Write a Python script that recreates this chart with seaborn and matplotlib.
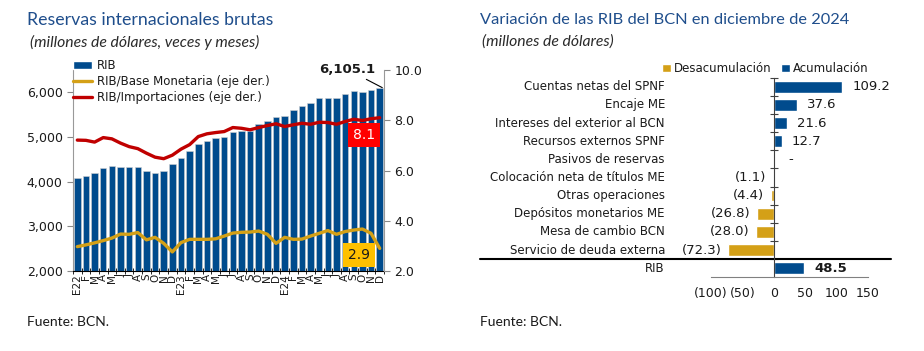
import numpy as np
import pandas as pd
import seaborn as sns
import matplotlib.pyplot as plt
from matplotlib.patches import Patch
from matplotlib.lines import Line2D
from matplotlib.ticker import FuncFormatter

# ---- left panel data: RIB (millones US$), RIB/Base monetaria, RIB/Importaciones
years = ["22", "23", "24"]
month_letters = ["E", "F", "M", "A", "M", "J", "J", "A", "S", "O", "N", "D"]
rib = [4090, 4130, 4205, 4310, 4345, 4330, 4325, 4325, 4250, 4205, 4250, 4405,
       4525, 4690, 4840, 4910, 4970, 4990, 5115, 5130, 5130, 5280, 5350, 5440,
       5465, 5600, 5690, 5760, 5880, 5880, 5880, 5970, 6040, 6010, 6055, 6105.1]
rib_base = [2.97, 3.04, 3.12, 3.21, 3.31, 3.47, 3.46, 3.53, 3.24, 3.34, 3.10, 2.76,
            3.13, 3.26, 3.26, 3.26, 3.28, 3.39, 3.51, 3.54, 3.55, 3.59, 3.46, 3.10,
            3.34, 3.26, 3.27, 3.39, 3.50, 3.61, 3.46, 3.57, 3.63, 3.67, 3.50, 2.90]
rib_import = [7.21, 7.20, 7.13, 7.31, 7.26, 7.09, 6.95, 6.87, 6.69, 6.53, 6.47, 6.61,
              6.85, 7.03, 7.35, 7.46, 7.51, 7.55, 7.71, 7.68, 7.62, 7.71, 7.79, 7.86,
              7.75, 7.82, 7.88, 7.84, 7.92, 7.91, 7.84, 7.95, 8.04, 7.99, 8.06, 8.10]

# ---- right panel data: variacion de las RIB, diciembre 2024
conceptos = ["Cuentas netas del SPNF", "Encaje ME", "Intereses del exterior al BCN",
             "Recursos externos SPNF", "Pasivos de reservas", "Colocación neta de títulos ME",
             "Otras operaciones", "Depósitos monetarios ME", "Mesa de cambio BCN",
             "Servicio de deuda externa", "RIB"]
variacion = [109.2, 37.6, 21.6, 12.7, 0.0, -1.1, -4.4, -26.8, -28.0, -72.3, 48.5]

blue = "#004B8D"
gold = "#D4A017"
red = "#C00000"
title_col = "#1F4E8C"
txt = "#1A1A1A"

sns.set_style("ticks")
plt.rcParams['font.family'] = ['DejaVu Sans']
plt.rcParams['text.color'] = txt
plt.rcParams['xtick.color'] = txt
plt.rcParams['ytick.color'] = txt

tick_labels = []
for y in years:
    for i, m in enumerate(month_letters):
        tick_labels.append(m + y if i == 0 else m)
keys = [f"{y}-{i:02d}" for y in years for i in range(1, 13)]
df = pd.DataFrame({"mes": keys, "rib": rib, "base": rib_base, "imp": rib_import})
df["pos"] = np.arange(len(df))

fig = plt.figure(figsize=(9.24, 3.51), dpi=100)
ax = fig.add_axes([73 / 924, 1 - 271 / 351, (384 - 73) / 924, 201 / 351])
ax2 = ax.twinx()

sns.barplot(data=df, x="mes", y="rib", color=blue, saturation=1, width=0.75,
            edgecolor="#D0D0D0", linewidth=0.4, ax=ax)
sns.lineplot(data=df, x="pos", y="base", color=gold, lw=2.4, ax=ax2)
sns.lineplot(data=df, x="pos", y="imp", color=red, lw=2.4, ax=ax2)

ax.set_xlim(-0.5, len(df) - 0.5)
ax.set_ylim(2000, 6500)
ax2.set_ylim(2, 10)
ax.set_xlabel("")
ax.set_ylabel("")
ax2.set_ylabel("")
ax.set_yticks([2000, 3000, 4000, 5000, 6000])
ax.yaxis.set_major_formatter(FuncFormatter(lambda v, p: f"{v:,.0f}"))
ax2.set_yticks([2, 4, 6, 8, 10])
ax2.yaxis.set_major_formatter(FuncFormatter(lambda v, p: f"{v:.1f}"))
ax.tick_params(axis='y', labelsize=9, length=4, color="#888888")
ax2.tick_params(axis='y', labelsize=9, length=4, color="#888888")

ax.set_xticks(np.arange(len(df)))
ax.set_xticklabels(tick_labels, rotation=90, fontsize=7.5)
ax.set_xticks(np.arange(-0.5, len(df), 1), minor=True)
ax.tick_params(axis='x', which='major', length=0, pad=2)
ax.tick_params(axis='x', which='minor', length=5, direction='inout', color="black")

for s in ["top", "right"]:
    ax.spines[s].set_visible(False)
for s in ["top", "left", "bottom"]:
    ax2.spines[s].set_visible(False)
ax.spines["left"].set_color("#999999")
ax2.spines["right"].set_color("#999999")
ax.spines["bottom"].set_color("black")

handles = [Patch(facecolor=blue), Line2D([], [], color=gold, lw=2.4),
           Line2D([], [], color=red, lw=2.4)]
labels = ["RIB", "RIB/Base Monetaria (eje der.)", "RIB/Importaciones (eje der.)"]
ax2.legend(handles, labels, loc="upper left", bbox_to_anchor=(0.0, 1.055), frameon=False,
           fontsize=8.5, handlelength=1.6, handletextpad=0.4, labelspacing=0.25,
           borderpad=0, borderaxespad=0)

last = len(df) - 1
ax.annotate(f"{rib[-1]:,.1f}", xy=(last + 0.3, rib[-1]), xytext=(-25, 13),
            textcoords="offset points", ha="center", va="center", fontsize=9.5,
            fontweight="bold", arrowprops=dict(arrowstyle="-", color="black", lw=0.8,
                                               shrinkA=0, shrinkB=0))
ax2.annotate(f"{rib_import[-1]:.1f}", xy=(last, rib_import[-1]), xytext=(-11, -12.5),
             textcoords="offset points", ha="center", va="center", fontsize=10,
             color="white", bbox=dict(boxstyle="square,pad=0.35", fc="#FF0000", ec="none"))
ax2.annotate(f"{rib_base[-1]:.1f}", xy=(last, rib_base[-1]), xytext=(-15, -5),
             textcoords="offset points", ha="center", va="center", fontsize=10,
             color=txt, bbox=dict(boxstyle="square,pad=0.35", fc="#FFC000", ec="none"))

# ---- right panel
dfr = pd.DataFrame({"concepto": conceptos, "valor": variacion})
dfr["tipo"] = np.where(dfr["valor"] < 0, "Desacumulación", "Acumulación")
axr = fig.add_axes([711 / 924, 1 - 277.3 / 351, 157 / 924, 199.6 / 351])
sns.barplot(data=dfr, y="concepto", x="valor", hue="tipo",
            hue_order=["Desacumulación", "Acumulación"],
            palette={"Desacumulación": gold, "Acumulación": blue},
            dodge=False, width=0.64, saturation=1, legend=False, orient="h", ax=axr)
axr.set_xlim(-100, 150)
axr.set_ylim(len(dfr) - 0.5, -0.5)
axr.set_xlabel("")
axr.set_ylabel("")
axr.spines["left"].set_position(("data", 0))
axr.spines["left"].set_color("#404040")
axr.spines["bottom"].set_color("#808080")
axr.spines["top"].set_visible(False)
axr.spines["right"].set_visible(False)
axr.set_yticks(np.arange(-0.5, len(dfr) - 1, 1))
axr.set_yticklabels([])
axr.tick_params(axis='y', direction='inout', length=6, color="#404040")
axr.set_xticks([-100, -50, 0, 50, 100, 150])
axr.xaxis.set_major_formatter(FuncFormatter(lambda v, p: f"({abs(v):.0f})" if v < 0 else f"{v:.0f}"))
axr.tick_params(axis='x', length=0, pad=7, labelsize=9)

ytr = axr.get_yaxis_transform()
for i, (c, v) in enumerate(zip(conceptos, variacion)):
    axr.text(-0.293, i, c, transform=ytr, ha="right", va="center", fontsize=8.5)
    bold = "bold" if c == "RIB" else "normal"
    if v > 0:
        axr.annotate(f"{v:.1f}", xy=(v, i), xytext=(7, 0), textcoords="offset points",
                     ha="left", va="center", fontsize=9.5, fontweight=bold)
    elif v < 0:
        axr.annotate(f"({abs(v):.1f})", xy=(v, i), xytext=(-5, 0), textcoords="offset points",
                     ha="right", va="center", fontsize=9.5)
    else:
        axr.annotate("-", xy=(v, i), xytext=(12, 0), textcoords="offset points",
                     ha="center", va="center", fontsize=9.5)
axr.plot([-1.47, 1.146], [len(dfr) - 1.5] * 2, transform=ytr, color="black", lw=1.5,
         clip_on=False)

axr.legend([Patch(facecolor=gold), Patch(facecolor=blue)], ["Desacumulación", "Acumulación"],
           loc="lower right", bbox_to_anchor=(1.02, 1.0), ncol=2, frameon=False,
           fontsize=8.5, handlelength=0.7, handleheight=0.7, handletextpad=0.3,
           columnspacing=0.8, borderpad=0, borderaxespad=0.2)

# ---- titles and sources
fig.text(27 / 924, 1 - 20 / 351, "Reservas internacionales brutas", fontsize=12.8,
         color=title_col, va="center", family="Lato")
fig.text(30 / 924, 1 - 42 / 351, "(millones de dólares, veces y meses)", fontsize=11.3,
         style="italic", va="center", family="Lato", color="#2A2A2A")
fig.text(480 / 924, 1 - 20 / 351, "Variación de las RIB del BCN en diciembre de 2024",
         fontsize=11.8, color=title_col, va="center", family="Lato")
fig.text(482 / 924, 1 - 42 / 351, "(millones de dólares)", fontsize=11.3,
         style="italic", va="center", family="Lato", color="#2A2A2A")
fig.text(27 / 924, 1 - 322 / 351, "Fuente: BCN.", fontsize=10, va="center", family="Lato")
fig.text(480 / 924, 1 - 322 / 351, "Fuente: BCN.", fontsize=10, va="center", family="Lato")

fig.savefig("out.png", dpi=100)
